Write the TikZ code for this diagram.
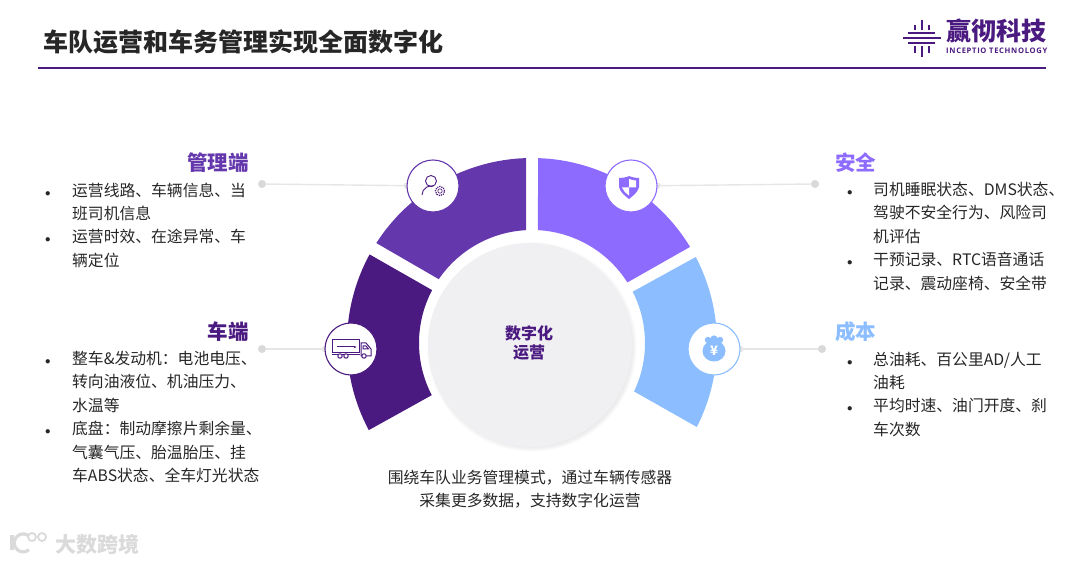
\documentclass[tikz,border=0pt]{standalone}
\usepackage{fontspec}
\setmainfont{Noto Sans CJK SC}
\newfontfamily\logofont[LetterSpace=9]{Open Sans}
\usetikzlibrary{arrows.meta,positioning,calc,backgrounds,shadows}
\usepackage{xcolor}
\definecolor{ink}{HTML}{262626}
\definecolor{brand}{HTML}{4B1A80}
\definecolor{manage}{HTML}{6437AC}
\definecolor{truck}{HTML}{4B1A80}
\definecolor{safety}{HTML}{8E6BFF}
\definecolor{cost}{HTML}{8CBEFF}
\definecolor{leaderc}{HTML}{E6E6E6}
\definecolor{dotc}{HTML}{D9D9D9}
\definecolor{discc}{HTML}{F0F0F2}
\definecolor{markc}{HTML}{DADADA}
\tikzset{
  >=Latex,
  every node/.style={text=ink,inner sep=0pt},
  headline/.style={font=\fontsize{25}{30}\selectfont\bfseries,text=ink,anchor=west},
  heading/.style={font=\fontsize{20.5}{24}\selectfont\bfseries},
  body/.style={font=\fontsize{15.8}{23.4}\selectfont,anchor=north west,align=left},
  iconbox/.style={circle,fill=white,draw=#1,line width=1.1pt,minimum size=52pt},
  enddot/.style={circle,fill=dotc,minimum size=8pt},
  leader/.style={-{Circle[length=6pt]},shorten >=-3pt,draw=leaderc,line width=1.4pt},
  disc/.style={circle,fill=discc,minimum size=204pt,
    circular drop shadow={shadow xshift=1.5pt,shadow yshift=-1.5pt,shadow scale=1.03,opacity=.45}},
  disctext/.style={align=center,font=\fontsize{16}{19}\selectfont\bfseries,text=brand},
  caption/.style={font=\fontsize{15.8}{23}\selectfont,align=center},
  logobar/.style={draw=brand,line width=2.4pt},
  markline/.style={draw=markc,line width=3.2pt},
}
\newcommand{\ringseg}[5]{\fill[#1] ($(532,221)+(#2:185)$) arc[start angle=#2,end angle=#3,radius=185]
  -- ($(532,221)+(#4:113)$) arc[start angle=#4,end angle=#5,radius=113] -- cycle;}
\newcommand{\itm}{\hspace{1pt}\fontsize{11}{11}\selectfont$\bullet$}

\begin{document}
\begin{tikzpicture}[x=1pt,y=1pt]
\useasboundingbox (0,0) rectangle (1080,564);

% header
\node[headline] (title) at (43.5,522) {车队运营和车务管理实现全面数字化};
\coordinate (rulea) at (38,496);
\coordinate (ruleb) at (1046,496);
\draw[brand,line width=1.3pt] (rulea) -- (ruleb);

% logo
\draw[logobar] (903,526) -- (941,526);
\foreach \y in {521,531} \draw[logobar] (908,\y) -- (935,\y);
\draw[logobar] (922,534) -- (922,544);
\draw[logobar] (922,518) -- (922,507);
\foreach \x in {915,929} {
  \draw[logobar] (\x,534) -- (\x,539);
  \draw[logobar] (\x,518) -- (\x,511);
}
\node[font=\fontsize{25}{25}\selectfont\bfseries,text=brand,anchor=west] (logotext) at (946,533) {赢彻科技};
\node[font=\logofont\fontsize{7.6}{8}\selectfont\bfseries,text=brand,anchor=west] (logosub) at (946,513) {INCEPTIO TECHNOLOGY};

% ring
\begin{scope}[on background layer]
\ringseg{manage}{91.86}{147.3}{145.6}{93.04}
\ringseg{truck}{151.4}{208.1}{207.5}{152.1}
\ringseg{safety}{88.14}{31.3}{32.4}{86.96}
\ringseg{cost}{27.7}{-27}{-25.4}{27}
\end{scope}
\node[disc] (center) at (530,219) {};
\node[disctext] (centertext) at (529,221.5) {数字化\\运营};

% icons
\node[iconbox=manage] (iconmanage) at (433,378) {};
\node[iconbox=truck] (icontruck) at (351,215) {};
\node[iconbox=safety] (iconsafety) at (631,378) {};
\node[iconbox=cost] (iconcost) at (714,215) {};

\node[enddot] (dotmanage) at (262,380) {};
\node[enddot] (dottruck) at (262,215) {};
\node[enddot] (dotsafety) at (815,380) {};
\node[enddot] (dotcost) at (822,215) {};

\begin{scope}[on background layer]
\draw[leader] (dotmanage) -- (iconmanage);
\draw[leader] (dottruck) -- (icontruck);
\draw[leader] (dotsafety) -- (iconsafety);
\draw[leader] (dotcost) -- (iconcost);
\end{scope}

% user icon
\begin{scope}[shift={(iconmanage.center)},draw=brand,line width=.9pt]
\draw (-2,5) circle (5.5);
\draw (-11,-9) arc[start angle=180,end angle=75,radius=9];
\draw[densely dotted,line width=1.2pt] (7,-5) circle (4.6);
\draw[line width=.6pt] (7,-5) circle (2.2);
\end{scope}

% truck icon
\begin{scope}[shift={(icontruck.center)},draw=brand,line width=1pt]
\draw (-19,9) rectangle (8,-4);
\draw (-19,-6) -- (9,-6);
\draw[->,>={Latex[length=3pt]}] (-14,2) -- (6,2);
\draw (10,6) -- (15,6) -- (20,0) -- (20,-7) -- (10,-7) -- cycle;
\draw (12,3) -- (15,3) -- (17.5,0) -- (12,0) -- cycle;
\draw[fill=white] (-11,-7) circle (2.2) (-5,-7) circle (2.2) (13,-7) circle (2.2);
\end{scope}

% shield icon
\begin{scope}[shift={(iconsafety.center)}]
\fill[safety] (-12,8) .. controls (-5,8) and (-2,10) .. (-2,10) .. controls (-2,10) and (2,8) .. (8,8)
  -- (8,-1) .. controls (7,-6) and (2,-10) .. (-2,-13) .. controls (-6,-10) and (-11,-6) .. (-12,-1) -- cycle;
\fill[white] (-2,7) .. controls (1,6) and (3,5.5) .. (5,5.5) -- (5,-1.5) -- (-2,-1.5) -- cycle;
\fill[white] (-2,-1.5) -- (-9,-1.5) .. controls (-8,-5) and (-5,-7) .. (-2,-9.5) -- cycle;
\end{scope}

% money bag icon
\begin{scope}[shift={(iconcost.center)}]
\fill[cost] (0,-2) ellipse (11.5 and 10.5);
\fill[cost] (-6,9) circle (3.2) (0,10) circle (3.6) (6,9) circle (3.2);
\fill[cost] (-4,9) rectangle (4,5);
\node[text=white,font=\fontsize{13}{13}\selectfont\bfseries] (yen) at (0,-2) {¥};
\end{scope}

% left texts
\node[heading,text=manage,anchor=east] (headmanage) at (249,401) {管理端};
\node[body] (textmanage) at (44,384.5) {\begin{tabular}{@{}p{28pt}@{}l@{}}
\itm & 运营线路、车辆信息、当\\
 & 班司机信息\\
\itm & 运营时效、在途异常、车\\
 & 辆定位
\end{tabular}};
\node[heading,text=truck,anchor=east] (headtruck) at (249,232) {车端};
\node[body] (texttruck) at (44,216) {\begin{tabular}{@{}p{28pt}@{}l@{}}
\itm & 整车\&发动机：电池电压、\\
 & 转向油液位、机油压力、\\
 & 水温等\\
\itm & 底盘：制动摩擦片剩余量、\\
 & 气囊气压、胎温胎压、挂\\
 & 车ABS状态、全车灯光状态
\end{tabular}};

% right texts
\node[heading,text=safety,anchor=west] (headsafety) at (835,401) {安全};
\node[body] (textsafety) at (846,385) {\begin{tabular}{@{}p{27pt}@{}l@{}}
\itm & 司机睡眠状态、DMS状态、\\
 & 驾驶不安全行为、风险司\\
 & 机评估\\
\itm & 干预记录、RTC语音通话\\
 & 记录、震动座椅、安全带
\end{tabular}};
\node[heading,text=cost,anchor=west] (headcost) at (835,232) {成本};
\node[body] (textcost) at (846,215.5) {\begin{tabular}{@{}p{27pt}@{}l@{}}
\itm & 总油耗、百公里AD/人工\\
 & 油耗\\
\itm & 平均时速、油门开度、刹\\
 & 车次数
\end{tabular}};

\node[caption] (note) at (530,74.5) {围绕车队业务管理模式，通过车辆传感器\\采集更多数据，支持数字化运营};

% watermark
\node[font=\fontsize{21}{21}\selectfont\bfseries,text=markc,anchor=west] (marktext) at (55,20) {大数跨境};
\draw[markline] (12,29) -- (12,14);
\draw[markline] (29,28) arc[start angle=50,end angle=310,radius=9];
\draw[draw=markc,line width=1.8pt] (32,27) circle (4) (42,27) circle (4);
\end{tikzpicture}
\end{document}
